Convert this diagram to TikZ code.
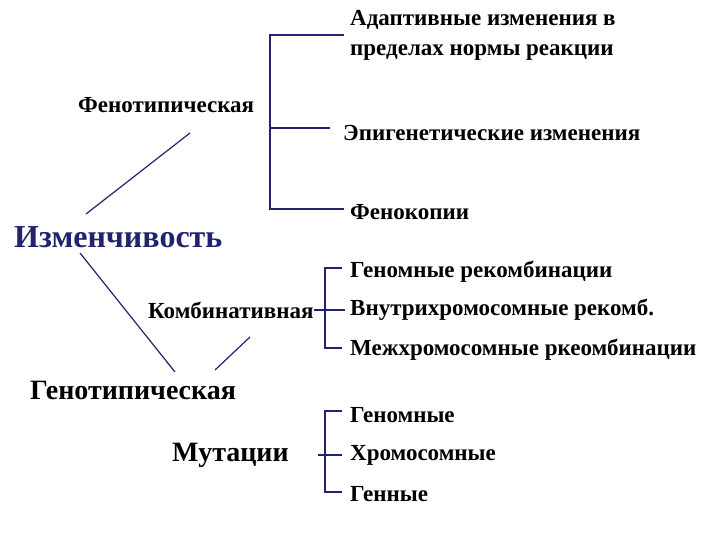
\documentclass[tikz,border=0pt]{standalone}
\usepackage{fontspec}
\setmainfont{Liberation Serif}
\usetikzlibrary{positioning}
\definecolor{navy}{HTML}{22226E}

\begin{document}
\begin{tikzpicture}[
    x=1pt, y=-1pt,
    % text
    txt/.style={font=\bfseries\fontsize{23}{30}\selectfont, anchor=west, inner sep=0pt, align=left},
    big/.style={font=\bfseries\fontsize{28}{32}\selectfont, anchor=west, inner sep=0pt},
    % connectors
    line/.style={navy, line width=1.2pt},
  ]
  \useasboundingbox (0,0) rectangle (720,540);

  \node (adapt)  [txt] at (350,35)  {Адаптивные изменения в\\пределах нормы реакции};
  \node (pheno)  [txt] at (78,105)  {Фенотипическая};
  \node (epi)    [txt] at (343,133) {Эпигенетические изменения};
  \node (copy)   [txt] at (350,212) {Фенокопии};
  \node (izm)    [big, navy, font=\bfseries\fontsize{32}{36}\selectfont] at (14,237) {Изменчивость};

  \node (genrec) [txt] at (350,272) {Геномные рекомбинации};
  \node (komb)   [txt] at (148,310) {Комбинативная};
  \node (intra)  [txt] at (350,310) {Внутрихромосомные рекомб.};
  \node (inter)  [txt] at (350,350) {Межхромосомные ркеомбинации};

  \node (geno)   [big] at (30,390)  {Генотипическая};
  \node (gm)     [txt] at (350,415) {Геномные};
  \node (mut)    [big] at (172,455) {Мутации};
  \node (chr)    [txt] at (350,455) {Хромосомные};
  \node (gene)   [txt] at (350,494) {Генные};

  % bracket of phenotypic
  \coordinate (b1t) at (270,35);
  \coordinate (b1b) at (270,209);
  \draw[line] (344,35) -- (b1t) -- (b1b) -- (344,209);
  \draw[line] (270,128) -- (330,128);

  % diagonals
  \draw[line] (190,133) -- (86,214);
  \draw[line] (80,253) -- (175,372);
  \draw[line] (250,337) -- (215,370);

  % bracket of combinative
  \draw[line] (342,268) -- (325,268) -- (325,348) -- (342,348);
  \draw[line] (komb.east) -- (345,310);

  % bracket of mutations
  \draw[line] (342,411) -- (325,411) -- (325,492) -- (342,492);
  \draw[line] (318,455) -- (342,455);
\end{tikzpicture}
\end{document}
